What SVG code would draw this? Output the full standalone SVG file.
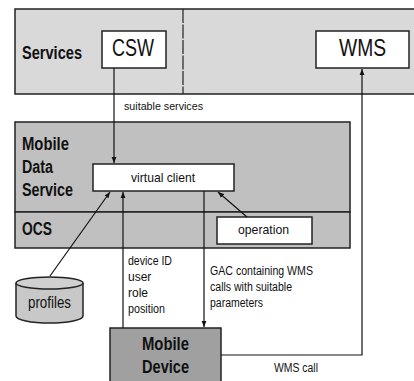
<svg xmlns="http://www.w3.org/2000/svg" width="414" height="381" viewBox="0 0 414 381">
<style>
text{font-family:"Liberation Sans",Arial,sans-serif;fill:#111}
.b{font-weight:bold}
.box{fill:#fff;stroke:#222;stroke-width:1.5}
.band{stroke:#222;stroke-width:1.5}
.ln{fill:none;stroke:#111;stroke-width:1.2}
</style>
<defs>
<marker id="ah" viewBox="0 0 10 10" refX="10" refY="5" markerWidth="6" markerHeight="6" orient="auto" markerUnits="userSpaceOnUse">
<path d="M0,1 L10,5 L0,9 z" fill="#111"/>
</marker>
</defs>
<rect width="414" height="381" fill="#fff"/>
<g id="services">
<path d="M416,9 H15 V94 H416" fill="#d9d9d9" class="band"/>
<line x1="183" y1="9" x2="183" y2="94" stroke="#222" stroke-width="1.2" stroke-dasharray="14,1.5"/>
<text x="22" y="59" font-size="17.5" class="b" textLength="60" lengthAdjust="spacingAndGlyphs">Services</text>
</g>
<g id="csw">
<rect x="102" y="31" width="64" height="37" class="box"/>
<text x="112" y="56" font-size="24" textLength="42" lengthAdjust="spacingAndGlyphs">CSW</text>
</g>
<g id="wms">
<rect x="316" y="31" width="93" height="37" class="box"/>
<text x="339" y="56" font-size="24" textLength="47" lengthAdjust="spacingAndGlyphs">WMS</text>
</g>
<g id="mds">
<rect x="15" y="122" width="335" height="90" fill="#c0c0c0" class="band"/>
<text x="22" y="150" font-size="18" class="b" textLength="47" lengthAdjust="spacingAndGlyphs">Mobile</text>
<text x="22" y="173" font-size="18" class="b" textLength="31" lengthAdjust="spacingAndGlyphs">Data</text>
<text x="22" y="196" font-size="18" class="b" textLength="51" lengthAdjust="spacingAndGlyphs">Service</text>
</g>
<g id="ocs">
<rect x="15" y="212" width="335" height="36" fill="#c0c0c0" class="band"/>
<text x="22" y="235" font-size="18" class="b" textLength="30" lengthAdjust="spacingAndGlyphs">OCS</text>
</g>
<g id="virtual-client">
<rect x="93" y="164" width="141" height="27" class="box"/>
<text x="131" y="182" font-size="13" textLength="64" lengthAdjust="spacingAndGlyphs">virtual client</text>
</g>
<g id="operation">
<rect x="217" y="217" width="95" height="27" class="box"/>
<text x="238" y="234" font-size="13" textLength="51" lengthAdjust="spacingAndGlyphs">operation</text>
</g>
<g id="profiles">
<path d="M16,283 V316 A33.5,7 0 0 0 83,316 V283" fill="#c8c8c8" stroke="#222" stroke-width="1.5"/>
<ellipse cx="49.5" cy="283" rx="33.5" ry="6" fill="#d0d0d0" stroke="#222" stroke-width="1.5"/>
<text x="28" y="308" font-size="17" textLength="43" lengthAdjust="spacingAndGlyphs">profiles</text>
</g>
<g id="mobile-device">
<rect x="110" y="328" width="111" height="60" fill="#a0a0a0" stroke="#222" stroke-width="1.5"/>
<text x="142" y="350" font-size="18" class="b" textLength="47" lengthAdjust="spacingAndGlyphs">Mobile</text>
<text x="142" y="373" font-size="18" class="b" textLength="47" lengthAdjust="spacingAndGlyphs">Device</text>
</g>
<g id="connectors">
<line x1="114" y1="68" x2="114" y2="163" class="ln" marker-end="url(#ah)"/>
<line x1="50" y1="276" x2="110" y2="192" class="ln" marker-end="url(#ah)"/>
<line x1="123" y1="328" x2="123" y2="192" class="ln" marker-end="url(#ah)"/>
<line x1="204" y1="191" x2="204" y2="327" class="ln" marker-end="url(#ah)"/>
<line x1="247" y1="217" x2="218" y2="192" class="ln" marker-end="url(#ah)"/>
<polyline points="221,355 362,355 362,69" class="ln" marker-end="url(#ah)"/>
<text x="124" y="110" font-size="11" textLength="79" lengthAdjust="spacingAndGlyphs">suitable services</text>
<text x="128" y="265" font-size="12" textLength="44" lengthAdjust="spacingAndGlyphs">device ID</text>
<text x="128" y="281" font-size="12">user</text>
<text x="128" y="297" font-size="12">role</text>
<text x="128" y="313" font-size="12" textLength="37" lengthAdjust="spacingAndGlyphs">position</text>
<text x="210" y="275" font-size="12" textLength="103" lengthAdjust="spacingAndGlyphs">GAC containing WMS</text>
<text x="210" y="291" font-size="12" textLength="82" lengthAdjust="spacingAndGlyphs">calls with suitable</text>
<text x="210" y="307" font-size="12" textLength="53" lengthAdjust="spacingAndGlyphs">parameters</text>
<text x="274" y="372" font-size="12" textLength="44" lengthAdjust="spacingAndGlyphs">WMS call</text>
</g>
</svg>
